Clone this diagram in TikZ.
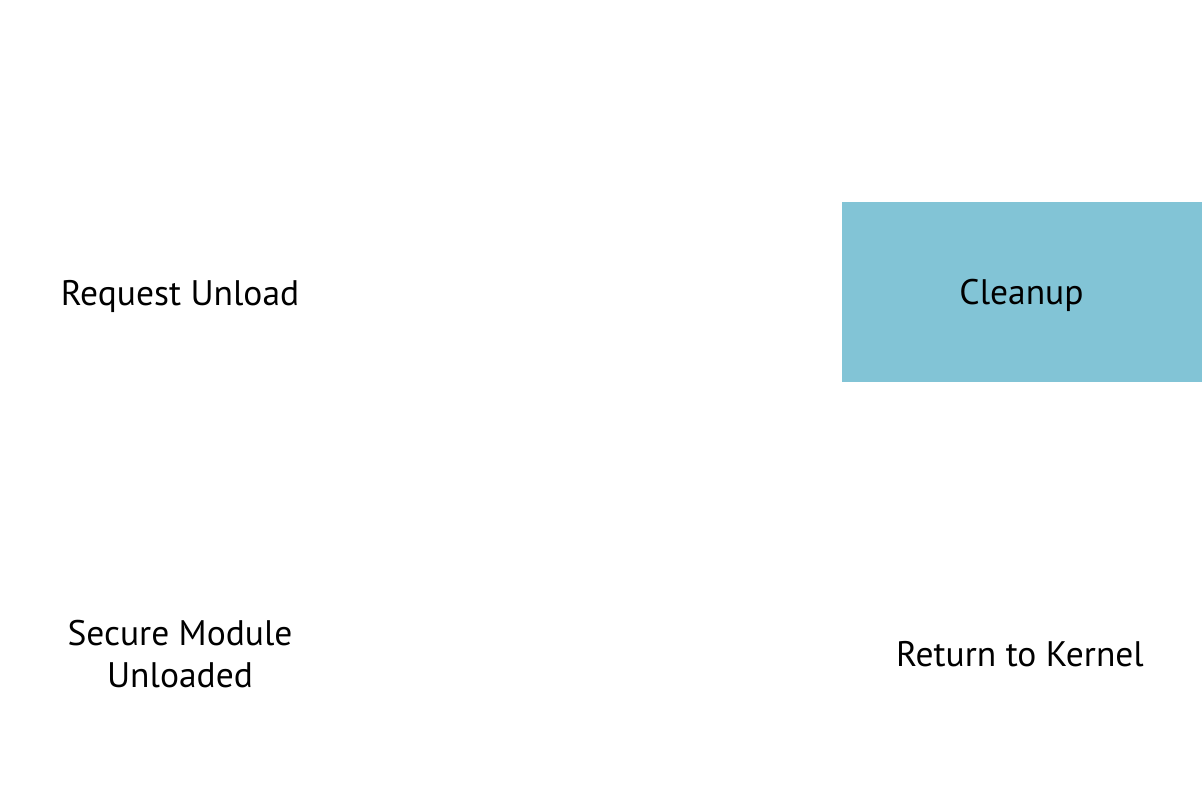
\documentclass[tikz,border=0pt]{standalone}
\usepackage{fontspec}
\setmainfont{PT Sans}
\definecolor{boxblue}{HTML}{82C4D6}
\newcommand{\lowertxt}[1]{\raisebox{-3pt}[\height][\depth]{#1}}
\begin{document}
\begin{tikzpicture}[x=1pt,y=-1pt,
  cell/.style={minimum width=360pt,minimum height=180pt,inner sep=0pt,align=center,font=\fontsize{35.5}{42}\selectfont,text=black},
  filled/.style={cell,fill=boxblue}]
\useasboundingbox (0,0) rectangle (1203,810);
\node[cell] (req) at (180,293) {\lowertxt{Request Unload}};
\node[filled] (clean) at (1021.5,292.5) {\lowertxt{Cleanup}};
\node[cell] (ret) at (1020,654) {Return to Kernel};
\node[cell] (sec) at (180,654) {Secure Module\\Unloaded};
\end{tikzpicture}
\end{document}
